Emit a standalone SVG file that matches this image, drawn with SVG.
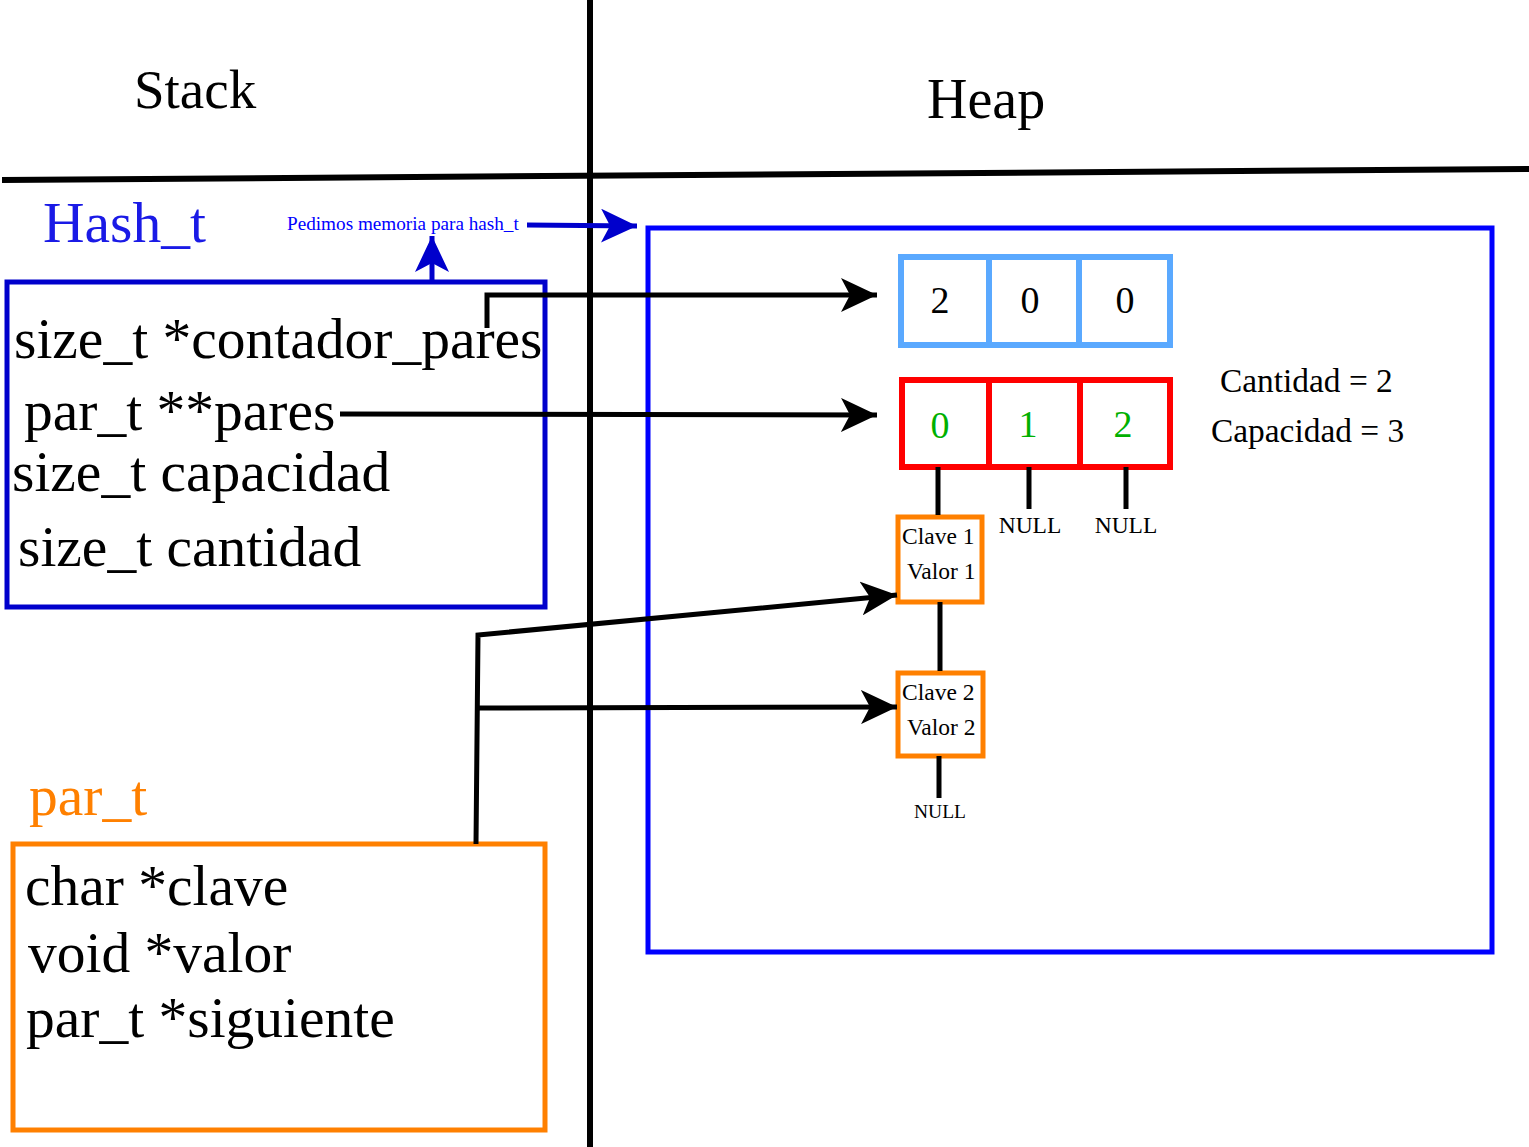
<svg xmlns="http://www.w3.org/2000/svg" width="1529" height="1147" viewBox="0 0 1529 1147">
<style>
text{font-family:"Liberation Serif","Times New Roman",serif;fill:#000}
.big{font-size:57.5px}
.cell{font-size:38px;text-anchor:middle}
.grn{fill:#00B000}
.small{font-size:23.5px}
.line{stroke:#000;stroke-width:5;fill:none}
</style>
<defs>
<marker id="ah" markerUnits="userSpaceOnUse" markerWidth="40" markerHeight="34" refX="36" refY="17" orient="auto">
<path d="M0,0 L36,17 L0,34 L9,17 Z" fill="#000"/>
</marker>
<marker id="ahb" markerUnits="userSpaceOnUse" markerWidth="40" markerHeight="34" refX="36" refY="17" orient="auto">
<path d="M0,0 L36,17 L0,34 L9,17 Z" fill="#0000CC"/>
</marker>
</defs>
<rect width="1529" height="1147" fill="#fff"/>
<g id="dividers">
<line x1="590" y1="0" x2="590" y2="1147" stroke="#000" stroke-width="6"/>
<line x1="2" y1="180" x2="1529" y2="169" stroke="#000" stroke-width="6"/>
</g>
<g id="titles">
<text x="134" y="108" style="font-size:55px">Stack</text>
<text x="927" y="118" style="font-size:56px">Heap</text>
<text x="43" y="242" class="big" style="fill:#1a1aE6">Hash_t</text>
<text x="29" y="815" class="big" style="fill:#FF8000">par_t</text>
<text x="287" y="230" style="font-size:19.2px;fill:#0000FF">Pedimos memoria para hash_t</text>
</g>
<g id="hash_t">
<rect x="7" y="282" width="538" height="325" fill="none" stroke="#0000CC" stroke-width="5"/>
<text x="14" y="358" class="big">size_t *contador_pares</text>
<text x="24" y="430" class="big">par_t **pares</text>
<text x="12" y="491" class="big">size_t capacidad</text>
<text x="18" y="566" class="big">size_t cantidad</text>
</g>
<g id="par_t">
<rect x="13" y="844" width="532" height="286" fill="none" stroke="#FF8000" stroke-width="5"/>
<text x="25" y="905" class="big">char *clave</text>
<text x="28" y="972" class="big">void *valor</text>
<text x="26" y="1037" class="big">par_t *siguiente</text>
</g>
<g id="heap">
<rect x="648" y="228" width="844" height="724" fill="none" stroke="#0000FF" stroke-width="5"/>
</g>
<g id="contador">
<rect x="901" y="257" width="88" height="88" fill="none" stroke="#5AA9FF" stroke-width="6"/>
<rect x="989" y="257" width="90" height="88" fill="none" stroke="#5AA9FF" stroke-width="6"/>
<rect x="1079" y="257" width="91" height="88" fill="none" stroke="#5AA9FF" stroke-width="6"/>
<text x="940" y="313" class="cell">2</text>
<text x="1030" y="313" class="cell">0</text>
<text x="1125" y="313" class="cell">0</text>
</g>
<g id="pares">
<rect x="902" y="380" width="87" height="87" fill="none" stroke="#FF0000" stroke-width="6"/>
<rect x="989" y="380" width="91" height="87" fill="none" stroke="#FF0000" stroke-width="6"/>
<rect x="1080" y="380" width="90" height="87" fill="none" stroke="#FF0000" stroke-width="6"/>
<text x="940" y="438" class="cell grn">0</text>
<text x="1028" y="437" class="cell grn">1</text>
<text x="1123" y="437" class="cell grn">2</text>
<text x="1030" y="533" class="small" text-anchor="middle">NULL</text>
<text x="1126" y="533" class="small" text-anchor="middle">NULL</text>
</g>
<g id="info">
<text x="1220" y="392" style="font-size:33.4px">Cantidad = 2</text>
<text x="1211" y="442" style="font-size:33.4px">Capacidad = 3</text>
</g>
<g id="par1">
<rect x="898" y="517" width="84" height="85" fill="#fff" stroke="#FF8000" stroke-width="5"/>
<text x="902" y="544" class="small">Clave 1</text>
<text x="907" y="579" class="small">Valor 1</text>
</g>
<g id="par2">
<rect x="898" y="673" width="85" height="83" fill="#fff" stroke="#FF8000" stroke-width="5"/>
<text x="902" y="700" class="small">Clave 2</text>
<text x="907" y="735" class="small">Valor 2</text>
<text x="940" y="818" style="font-size:19.5px" text-anchor="middle">NULL</text>
</g>
<g id="connectors">
<line class="line" x1="938" y1="467" x2="938" y2="515"/>
<line class="line" x1="1029" y1="467" x2="1029" y2="509"/>
<line class="line" x1="1126" y1="467" x2="1126" y2="509"/>
<line class="line" x1="940" y1="602" x2="940" y2="671"/>
<line class="line" x1="939" y1="756" x2="939" y2="798"/>
<path class="line" d="M487,328 L487,295 L877,295" marker-end="url(#ah)"/>
<path class="line" d="M340,414 L877,415" marker-end="url(#ah)"/>
<path class="line" d="M476,844 L478,635 L897,595" marker-end="url(#ah)"/>
<path class="line" d="M478,708 L897,707" marker-end="url(#ah)"/>
<path d="M432,282 L432,236" stroke="#0000CC" stroke-width="5" fill="none" marker-end="url(#ahb)"/>
<path d="M527,225 L637,226" stroke="#0000CC" stroke-width="5" fill="none" marker-end="url(#ahb)"/>
</g>
</svg>
